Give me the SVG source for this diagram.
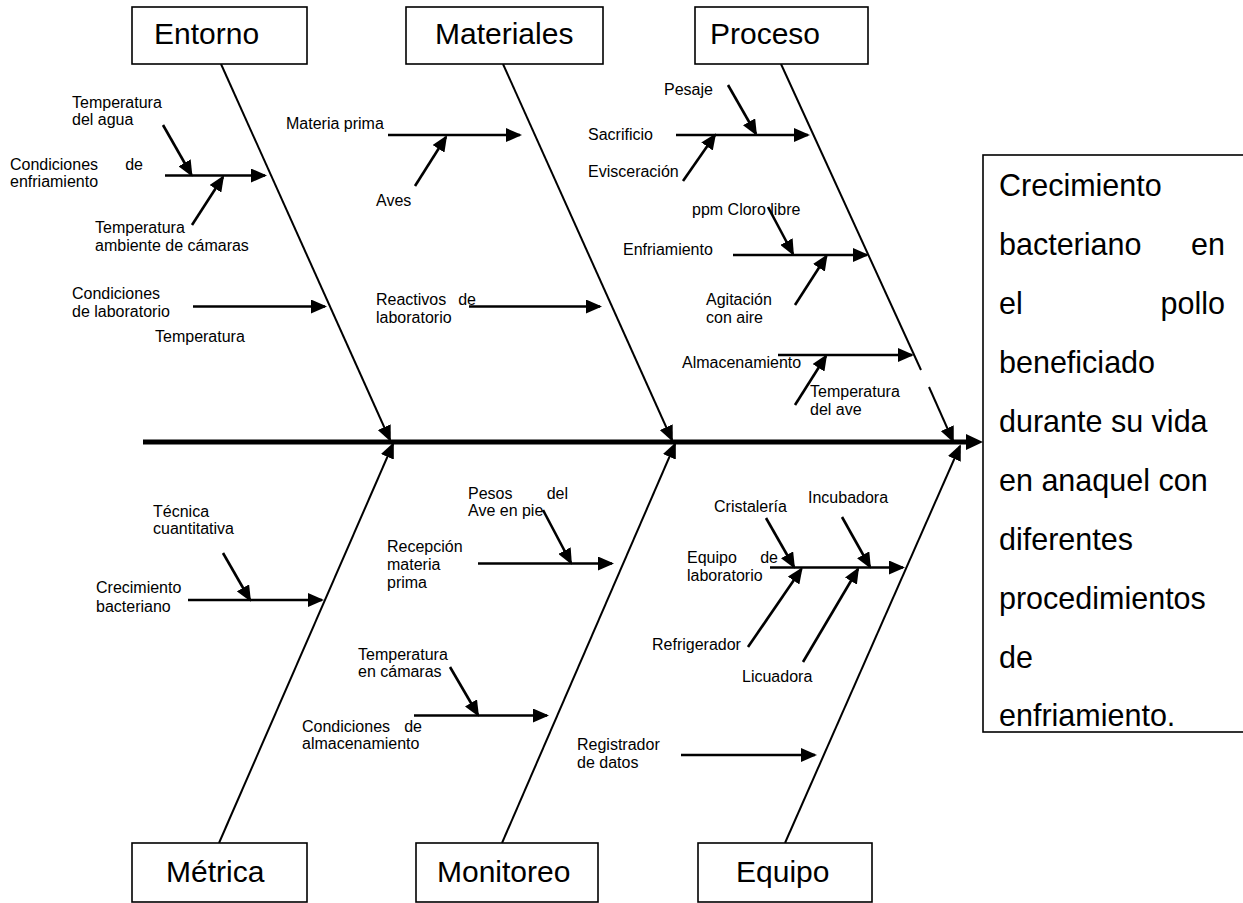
<svg xmlns="http://www.w3.org/2000/svg" width="1243" height="903" viewBox="0 0 1243 903">
<style>
  .box { fill: #fff; stroke: #000; stroke-width: 1.6; }
  .cat { font-family: "Liberation Sans", Arial, sans-serif; font-size: 30px; fill: #000; }
  .eff { font-family: "Liberation Sans", Arial, sans-serif; font-size: 30.5px; fill: #000; }
  .lbl { font-family: "Liberation Sans", Arial, sans-serif; font-size: 16px; fill: #000; }
  .bone { stroke: #000; stroke-width: 2; fill: none; }
  .br { stroke: #000; stroke-width: 2.6; fill: none; }
  .spine { stroke: #000; stroke-width: 5; fill: none; }
</style>
<defs>
  <marker id="ah" markerUnits="userSpaceOnUse" markerWidth="16" markerHeight="14" refX="14" refY="7" orient="auto">
    <path d="M0,0 L16,7 L0,14 z" fill="#000"/>
  </marker>
</defs>
<rect width="1243" height="903" fill="#fff"/>

<g id="connectors">
  <line class="spine" x1="143" y1="442" x2="970" y2="442"/>
  <polygon points="966,434 983,442 966,450" fill="#000"/>
  <line class="bone" x1="221" y1="64" x2="390" y2="440" marker-end="url(#ah)"/>
  <line class="bone" x1="503" y1="64" x2="672" y2="440" marker-end="url(#ah)"/>
  <line class="bone" x1="781" y1="64" x2="921" y2="370"/>
  <line class="bone" x1="929" y1="387" x2="953" y2="441" marker-end="url(#ah)"/>
  <line class="bone" x1="219" y1="843" x2="393" y2="444" marker-end="url(#ah)"/>
  <line class="bone" x1="502" y1="843" x2="675" y2="444" marker-end="url(#ah)"/>
  <line class="bone" x1="785" y1="843" x2="960" y2="446" marker-end="url(#ah)"/>

  <line class="br" x1="163" y1="125" x2="191.5" y2="175" marker-end="url(#ah)"/>
  <line class="br" x1="165" y1="175.5" x2="265" y2="175.5" marker-end="url(#ah)"/>
  <line class="br" x1="192" y1="225" x2="223" y2="177" marker-end="url(#ah)"/>
  <line class="br" x1="193" y1="306.5" x2="325" y2="306.5" marker-end="url(#ah)"/>
  <line class="br" x1="388" y1="135" x2="520" y2="135" marker-end="url(#ah)"/>
  <line class="br" x1="415" y1="186" x2="446" y2="137" marker-end="url(#ah)"/>
  <line class="br" x1="469" y1="306.5" x2="600" y2="306.5" marker-end="url(#ah)"/>
  <line class="br" x1="728" y1="85" x2="756" y2="134" marker-end="url(#ah)"/>
  <line class="br" x1="676" y1="135" x2="808" y2="135" marker-end="url(#ah)"/>
  <line class="br" x1="683" y1="181" x2="715" y2="135" marker-end="url(#ah)"/>
  <line class="br" x1="768" y1="207" x2="793" y2="254" marker-end="url(#ah)"/>
  <line class="br" x1="733" y1="255" x2="867" y2="255" marker-end="url(#ah)"/>
  <line class="br" x1="795" y1="305" x2="826.5" y2="256" marker-end="url(#ah)"/>
  <line class="br" x1="778" y1="355" x2="912" y2="355" marker-end="url(#ah)"/>
  <line class="br" x1="795" y1="405" x2="826" y2="356" marker-end="url(#ah)"/>

  <line class="br" x1="223" y1="553" x2="250" y2="600" marker-end="url(#ah)"/>
  <line class="br" x1="188" y1="600" x2="322" y2="600" marker-end="url(#ah)"/>
  <line class="br" x1="543" y1="510" x2="571" y2="563" marker-end="url(#ah)"/>
  <line class="br" x1="478" y1="563.5" x2="612" y2="563.5" marker-end="url(#ah)"/>
  <line class="br" x1="450" y1="667" x2="478" y2="715" marker-end="url(#ah)"/>
  <line class="br" x1="414" y1="715.5" x2="547" y2="715.5" marker-end="url(#ah)"/>
  <line class="br" x1="766" y1="518" x2="794" y2="567" marker-end="url(#ah)"/>
  <line class="br" x1="842" y1="517" x2="870" y2="567" marker-end="url(#ah)"/>
  <line class="br" x1="770" y1="567.5" x2="903" y2="567.5" marker-end="url(#ah)"/>
  <line class="br" x1="748" y1="647" x2="801.5" y2="569" marker-end="url(#ah)"/>
  <line class="br" x1="803" y1="662" x2="858" y2="569" marker-end="url(#ah)"/>
  <line class="br" x1="681" y1="755" x2="815" y2="755" marker-end="url(#ah)"/>
</g>

<g id="entorno"><rect class="box" x="132" y="7" width="175" height="57"/><text class="cat" x="154" y="44">Entorno</text></g>
<g id="materiales"><rect class="box" x="406" y="7" width="197" height="57"/><text class="cat" x="435" y="44">Materiales</text></g>
<g id="proceso"><rect class="box" x="695" y="7" width="173" height="57"/><text class="cat" x="710" y="44">Proceso</text></g>
<g id="metrica"><rect class="box" x="132" y="843" width="175" height="59"/><text class="cat" x="166" y="882">Métrica</text></g>
<g id="monitoreo"><rect class="box" x="416" y="843" width="182" height="59"/><text class="cat" x="437" y="882">Monitoreo</text></g>
<g id="equipo"><rect class="box" x="698" y="843" width="174" height="59"/><text class="cat" x="736" y="882">Equipo</text></g>

<g id="efecto">
  <rect class="box" x="983" y="155" width="280" height="577"/>
  <text class="eff" x="999" y="196">Crecimiento</text>
  <text class="eff" x="999" y="255">bacteriano</text><text class="eff" x="1225" y="255" text-anchor="end">en</text>
  <text class="eff" x="999" y="314">el</text><text class="eff" x="1225" y="314" text-anchor="end">pollo</text>
  <text class="eff" x="999" y="373">beneficiado</text>
  <text class="eff" x="999" y="432">durante su vida</text>
  <text class="eff" x="999" y="491">en anaquel con</text>
  <text class="eff" x="999" y="550">diferentes</text>
  <text class="eff" x="999" y="609">procedimientos</text>
  <text class="eff" x="999" y="668">de</text>
  <text class="eff" x="999" y="726">enfriamiento.</text>
</g>

<g id="temp-agua"><text class="lbl" x="72" y="108">Temperatura</text><text class="lbl" x="72" y="125">del agua</text></g>
<g id="cond-enfriamiento"><text class="lbl" x="10" y="170">Condiciones</text><text class="lbl" x="143" y="170" text-anchor="end">de</text><text class="lbl" x="10" y="187">enfriamiento</text></g>
<g id="temp-ambiente"><text class="lbl" x="95" y="233">Temperatura</text><text class="lbl" x="95" y="251">ambiente de cámaras</text></g>
<g id="cond-lab"><text class="lbl" x="72" y="299">Condiciones</text><text class="lbl" x="72" y="317">de laboratorio</text></g>
<g id="temperatura"><text class="lbl" x="155" y="342">Temperatura</text></g>
<g id="materia-prima"><text class="lbl" x="286" y="129">Materia prima</text></g>
<g id="aves"><text class="lbl" x="376" y="206">Aves</text></g>
<g id="reactivos"><text class="lbl" x="376" y="305">Reactivos</text><text class="lbl" x="476" y="305" text-anchor="end">de</text><text class="lbl" x="376" y="323">laboratorio</text></g>
<g id="pesaje"><text class="lbl" x="664" y="95">Pesaje</text></g>
<g id="sacrificio"><text class="lbl" x="588" y="140">Sacrificio</text></g>
<g id="evisceracion"><text class="lbl" x="588" y="177">Evisceración</text></g>
<g id="ppm"><text class="lbl" x="692" y="215">ppm Cloro libre</text></g>
<g id="enfriamiento"><text class="lbl" x="623" y="255">Enfriamiento</text></g>
<g id="agitacion"><text class="lbl" x="706" y="305">Agitación</text><text class="lbl" x="706" y="323">con aire</text></g>
<g id="almacenamiento"><text class="lbl" x="682" y="368">Almacenamiento</text></g>
<g id="temp-ave"><text class="lbl" x="810" y="397">Temperatura</text><text class="lbl" x="810" y="415">del ave</text></g>

<g id="tecnica"><text class="lbl" x="153" y="517">Técnica</text><text class="lbl" x="153" y="534">cuantitativa</text></g>
<g id="crec-bact"><text class="lbl" x="96" y="593">Crecimiento</text><text class="lbl" x="96" y="612">bacteriano</text></g>
<g id="pesos"><text class="lbl" x="468" y="499">Pesos</text><text class="lbl" x="568" y="499" text-anchor="end">del</text><text class="lbl" x="468" y="516">Ave en pie</text></g>
<g id="recepcion"><text class="lbl" x="387" y="552">Recepción</text><text class="lbl" x="387" y="570">materia</text><text class="lbl" x="387" y="588">prima</text></g>
<g id="temp-camaras"><text class="lbl" x="358" y="660">Temperatura</text><text class="lbl" x="358" y="677">en cámaras</text></g>
<g id="cond-almac"><text class="lbl" x="302" y="732">Condiciones</text><text class="lbl" x="422" y="732" text-anchor="end">de</text><text class="lbl" x="302" y="749">almacenamiento</text></g>
<g id="registrador"><text class="lbl" x="577" y="750">Registrador</text><text class="lbl" x="577" y="768">de datos</text></g>
<g id="cristaleria"><text class="lbl" x="714" y="512">Cristalería</text></g>
<g id="incubadora"><text class="lbl" x="808" y="503">Incubadora</text></g>
<g id="equipo-lab"><text class="lbl" x="687" y="563">Equipo</text><text class="lbl" x="778" y="563" text-anchor="end">de</text><text class="lbl" x="687" y="581">laboratorio</text></g>
<g id="refrigerador"><text class="lbl" x="652" y="650">Refrigerador</text></g>
<g id="licuadora"><text class="lbl" x="742" y="682">Licuadora</text></g>
</svg>
